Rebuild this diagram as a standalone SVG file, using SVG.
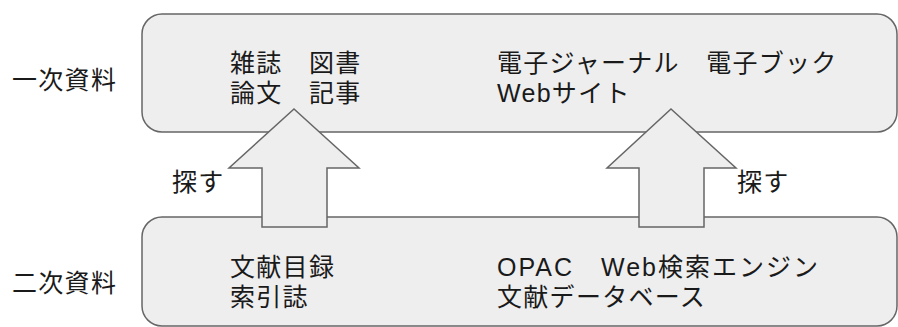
<svg xmlns="http://www.w3.org/2000/svg" width="898" height="327" viewBox="0 0 898 327">
<style>
.box{fill:#eeeeee;stroke:#666666;stroke-width:1.5}
.arrow{fill:#eeeeee;stroke:#666666;stroke-width:1.5;stroke-linejoin:miter}
text{font-family:"Liberation Sans","Noto Sans CJK JP",sans-serif;font-size:25px;letter-spacing:1.3px;fill:#1a1a1a}
.lat{letter-spacing:2px}
</style>
<rect width="898" height="327" fill="#ffffff"/>
<g id="primary">
<rect class="box" x="142" y="14" width="755" height="118" rx="20" ry="20"/>
<text x="230" y="72">雑誌　図書</text>
<text x="230" y="102">論文　記事</text>
<text x="497" y="72">電子ジャーナル　電子ブック</text>
<text x="497" y="102">Webサイト</text>
</g>
<g id="secondary">
<rect class="box" x="142" y="217" width="755" height="109" rx="20" ry="20"/>
<text x="230" y="276">文献目録</text>
<text x="230" y="306">索引誌</text>
<text class="lat" x="497" y="276">OPAC　Web検索エンジン</text>
<text x="497" y="306">文献データベース</text>
</g>
<g id="label-primary"><text x="12" y="89">一次資料</text></g>
<g id="label-secondary"><text x="12" y="292">二次資料</text></g>
<g id="connectors">
<polygon class="arrow" points="294,109 359,168 327,168 327,227 262,227 262,168 229,168"/>
<polygon class="arrow" points="671,109 736,168 704,168 704,227 639,227 639,168 607,168"/>
<text x="172" y="191">探す</text>
<text x="737" y="191">探す</text>
</g>
</svg>
